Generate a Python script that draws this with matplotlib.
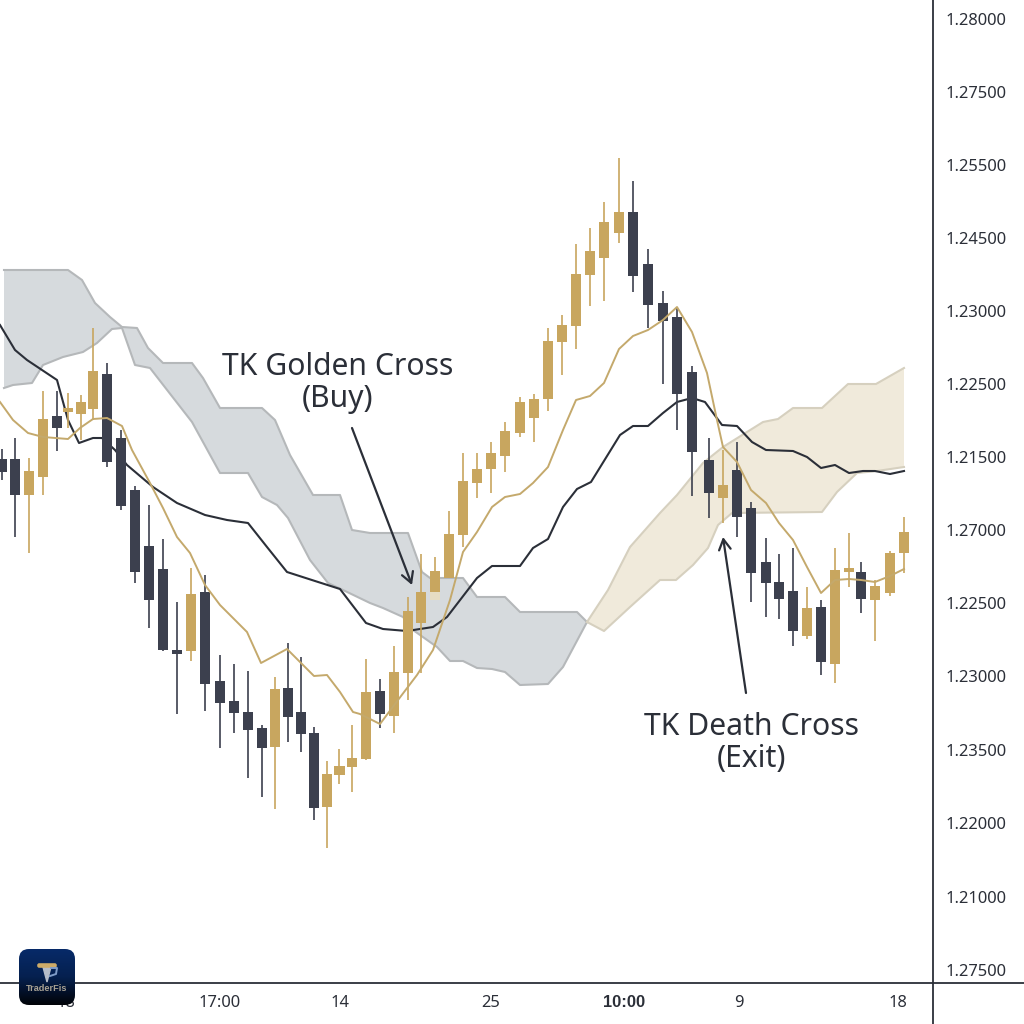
import numpy as np
import matplotlib
matplotlib.use("Agg")
import matplotlib.pyplot as plt
from matplotlib.colors import LinearSegmentedColormap
from matplotlib.patches import FancyBboxPatch
from matplotlib.lines import Line2D

plt.rcParams['font.family'] = ['Noto Sans', 'DejaVu Sans']

GOLD = '#c8a65f'
DARK = '#3c404e'
INK = '#2b2f38'

# candles (chart levels grow downwards)
bar_time = [2, 15, 29, 43, 57, 68, 81, 93, 107, 121, 135, 149, 163, 177, 191, 205, 219.7, 233.7, 247.7, 261.7,
            275, 288, 300.7, 313.7, 326.7, 339.3, 352, 365.7, 380, 394, 407.7, 421, 435, 449, 463, 477, 491, 505,
            519.7, 533.7, 548, 562, 576, 590, 604, 618.7, 633, 648, 662.7, 676.7, 692, 709, 723, 737, 751, 765.7,
            779, 793, 807, 821, 835, 848.7, 861, 875, 889.7, 903.7]
bar_up = [0, 0, 1, 1, 0, 1, 1, 1, 0, 0, 0, 0, 0, 0, 1, 0, 0, 0, 0, 0,
          1, 0, 0, 0, 1, 1, 1, 1, 0, 1, 1, 1, 1, 1, 1, 1, 1, 1,
          1, 1, 1, 1, 1, 1, 1, 1, 0, 0, 0, 0, 0, 0, 1, 0, 0, 0,
          0, 0, 1, 0, 1, 1, 0, 1, 1, 1]
body_top = [459, 459, 471, 419, 416, 408, 402, 371, 374, 438, 490, 546, 569, 650, 594, 592, 681, 701, 712, 728,
            689, 688, 712, 733, 774, 766, 758, 692, 691, 672, 611, 592, 571, 534, 481, 469, 453, 431,
            402, 399, 341, 325, 274, 251, 222, 212, 212, 264, 303, 317, 372, 460, 485, 470, 508, 562,
            582, 591, 608, 607, 570, 568, 572, 586, 553, 532]
body_bot = [472, 495, 495, 477, 428, 412, 414, 409, 462, 506, 572, 600, 650, 654, 651, 684, 703, 713, 730, 748,
            747, 717, 734, 808, 807, 775, 767, 759, 714, 716, 673, 623, 592, 578, 535, 483, 469, 456,
            433, 418, 399, 342, 326, 275, 258, 233, 276, 305, 321, 394, 452, 493, 498, 517, 573, 583,
            599, 631, 636, 662, 664, 572, 599, 600, 593, 553]
wick_top = [449, 438, 458, 391, 391, 393, 395, 328, 363, 430, 486, 505, 539, 602, 568, 575, 655, 664, 671, 725,
            677, 643, 657, 727, 761, 749, 725, 659, 679, 646, 597, 554, 557, 511, 453, 453, 442, 422,
            397, 394, 328, 315, 244, 228, 202, 158, 181, 249, 291, 307, 366, 438, 450, 442, 502, 538,
            554, 548, 587, 600, 548, 533, 562, 580, 551, 517]
wick_bot = [480, 537, 553, 495, 451, 428, 440, 420, 467, 510, 583, 628, 651, 714, 661, 711, 748, 733, 778, 797,
            809, 742, 752, 820, 848, 784, 792, 760, 728, 733, 700, 673, 600, 578, 547, 498, 493, 472,
            437, 442, 411, 375, 349, 306, 301, 243, 292, 328, 384, 430, 496, 518, 523, 537, 602, 617,
            619, 646, 639, 675, 683, 587, 613, 641, 596, 573]

# tenkan-sen
tenkan_t = [0, 13, 28, 43, 68, 80, 93, 107, 122, 132, 150, 163, 177, 190, 205, 220, 233, 247, 261, 287, 314, 327,
            340, 353, 360, 380, 398, 417, 433, 450, 463, 477, 492, 505, 520, 533, 548, 563, 576, 590, 604, 619,
            633, 648, 663, 677, 692, 707, 717, 723, 737, 751, 766, 779, 793, 807, 821, 835, 849, 861, 875, 890, 904]
tenkan_v = [402, 420, 433, 437, 439, 428, 419, 418, 426, 450, 483, 508, 537, 553, 585, 605, 618, 632, 663, 649,
            676, 675, 692, 712, 714, 724, 700, 675, 650, 600, 552, 532, 507, 497, 494, 483, 467, 430, 400, 396,
            383, 349, 336, 330, 320, 307, 332, 373, 420, 447, 462, 490, 503, 523, 540, 567, 593, 580, 579, 580,
            582, 576, 569]

# kijun-sen
kijun_t = [0, 15, 27, 42, 57, 68, 79, 93, 102, 115, 127, 153, 177, 205, 227, 248, 267, 287, 315, 340, 366, 383,
           407, 433, 447, 477, 492, 520, 533, 548, 563, 577, 591, 620, 633, 648, 663, 677, 692, 705, 722, 737,
           752, 766, 793, 807, 821, 835, 849, 863, 875, 890, 904]
kijun_v = [325, 350, 360, 370, 380, 420, 443, 438, 438, 450, 465, 487, 503, 515, 520, 523, 547, 572, 581, 589, 623,
           629, 631, 627, 617, 578, 566, 566, 548, 539, 507, 489, 482, 435, 426, 426, 413, 402, 398, 402, 425,
           426, 442, 450, 451, 457, 468, 465, 473, 471, 471, 474, 471]

# grey cloud, edges of both spans
grey_top_t = [4, 68, 82, 95, 110, 122, 137, 148, 163, 192, 203, 220, 262, 275, 290, 313, 340, 352, 370, 408, 422,
              430, 463, 477, 505, 520, 577, 587]
grey_top_v = [270, 270, 280, 303, 317, 327, 328, 348, 363, 363, 378, 408, 408, 420, 455, 495, 495, 530, 533, 533,
              572, 578, 578, 597, 597, 612, 612, 622]
grey_bot_t = [4, 13, 32, 43, 63, 83, 97, 112, 122, 135, 150, 192, 220, 248, 262, 277, 288, 310, 328, 343, 370,
              383, 403, 413, 437, 450, 463, 477, 492, 505, 520, 548, 563, 587]
grey_bot_v = [388, 385, 383, 365, 357, 352, 343, 329, 328, 365, 368, 422, 473, 473, 497, 505, 518, 560, 583, 590,
              603, 608, 617, 630, 647, 661, 661, 668, 669, 672, 685, 684, 667, 622]

# beige cloud
sand_top_t = [587, 608, 630, 660, 677, 703, 723, 763, 778, 793, 822, 848, 876, 904]
sand_top_v = [622, 590, 547, 513, 495, 463, 447, 422, 419, 408, 408, 384, 384, 368]
sand_bot_t = [587, 604, 630, 660, 676, 693, 708, 718, 732, 822, 837, 857, 877, 904]
sand_bot_v = [622, 631, 607, 580, 580, 565, 548, 525, 513, 512, 492, 473, 471, 467]

price_ticks = [19, 92, 165, 238, 311, 384, 457, 530, 603, 676, 750, 823, 897, 970]
price_labels = ['1.28000', '1.27500', '1.25500', '1.24500', '1.23000', '1.22500', '1.21500',
                '1.27000', '1.22500', '1.23000', '1.23500', '1.22000', '1.21000', '1.27500']
time_ticks = [66, 220, 340, 491, 624, 739, 898]
time_labels = ['18', '17:00', '14', '25', '10:00', '9', '18']

fig = plt.figure(figsize=(10.24, 10.24), dpi=100)
ax = fig.add_axes([0, 1 - 983 / 1024, 933 / 1024, 983 / 1024])
ax.set_xlim(0, 933)
ax.set_ylim(983, 0)


def fill_between_edges(top_t, top_v, bot_t, bot_v, fc, ec):
    # closed polygon: along the top edge, back along the bottom edge
    xs = np.r_[top_t, bot_t[::-1]]
    ys = np.r_[top_v, bot_v[::-1]]
    ax.fill(xs, ys, facecolor=fc, edgecolor='none', zorder=1)
    ax.plot(top_t, top_v, color=ec, lw=1.5, zorder=1.5)
    ax.plot(bot_t, bot_v, color=ec, lw=1.5, zorder=1.5)


fill_between_edges(grey_top_t, grey_top_v, grey_bot_t, grey_bot_v, '#d6dadd', '#b5b8ba')
fill_between_edges(sand_top_t, sand_top_v, sand_bot_t, sand_bot_v, '#f0eadb', '#d6d0bf')

ax.plot(kijun_t, kijun_v, color=INK, lw=1.5, zorder=2, solid_joinstyle='round')

colors = [GOLD if u else DARK for u in bar_up]
ax.vlines(bar_time, wick_top, wick_bot, colors=colors, lw=1.2, zorder=3)
ax.bar(bar_time, np.array(body_bot) - np.array(body_top), bottom=body_top, width=10.4, color=colors, zorder=3.2)
# pale patch under the candle at the golden cross
ax.bar(bar_time[32], 8, bottom=body_bot[32], width=10.4, color='#e6dcc2', zorder=3.1)

ax.plot(tenkan_t, tenkan_v, color='#c4a96c', lw=1.4, zorder=4, solid_joinstyle='round')

for s in ['top', 'left']:
    ax.spines[s].set_visible(False)
for s in ['right', 'bottom']:
    ax.spines[s].set_color(INK)
    ax.spines[s].set_linewidth(1.3)

ax.yaxis.tick_right()
ax.set_yticks(price_ticks)
ax.set_yticklabels(price_labels)
ax.set_xticks(time_ticks)
ax.set_xticklabels(time_labels)
ax.tick_params(axis='y', length=0, pad=9.2, labelsize=11.9, labelcolor=INK)
ax.tick_params(axis='x', length=0, pad=8.5, labelsize=11.9, labelcolor=INK)
# Noto Sans has no bold face installed here
ax.get_xticklabels()[4].set_fontfamily('Liberation Sans')
ax.get_xticklabels()[4].set_fontweight('bold')

# axis lines carry on past the crossing point
fig.add_artist(Line2D([933 / 1024, 1], [1 - 983 / 1024] * 2, color=INK, lw=1.3))
fig.add_artist(Line2D([933 / 1024] * 2, [0, 1 - 983 / 1024], color=INK, lw=1.3))

arrow = dict(arrowstyle='->,head_length=0.75,head_width=0.42', color=INK, lw=1.6, shrinkA=0, shrinkB=0)
ax.annotate('', xy=(412, 585), xytext=(352, 428), arrowprops=arrow, zorder=5)
ax.annotate('', xy=(723, 537), xytext=(746, 693), arrowprops=arrow, zorder=5)
ax.text(338, 383, 'TK Golden Cross\n(Buy)', ha='center', va='center', fontsize=21.7, color=INK,
        linespacing=1.05, zorder=6)
ax.text(751, 743, 'TK Death Cross\n(Exit)', ha='center', va='center', fontsize=21.7, color=INK,
        linespacing=1.05, zorder=6)

# badge in the lower left corner
badge = fig.add_axes([19 / 1024, 1 - 1005 / 1024, 56 / 1024, 56 / 1024], zorder=10)
badge.set_xlim(0, 56)
badge.set_ylim(56, 0)
badge.axis('off')
bg = np.linspace(0, 1, 64)[:, None]
navy = LinearSegmentedColormap.from_list('navy', ['#072a68', '#05204f', '#010308'])
im = badge.imshow(bg, cmap=navy, extent=(0, 56, 56, 0), aspect='auto')
clip = FancyBboxPatch((0, 0), 56, 56, boxstyle='round,pad=0,rounding_size=10', transform=badge.transData,
                      facecolor='none', edgecolor='none')
badge.add_patch(clip)
im.set_clip_path(clip)
badge.fill([24, 32, 28], [18, 18, 33], color='#b4bcc8')
badge.plot([32, 38, 37, 31], [19, 19, 25, 27], color='#7f9cc8', lw=1.4)
badge.add_patch(FancyBboxPatch((19, 15), 18, 3, boxstyle='round,pad=0.8,rounding_size=2', fc='#cdab68', ec='none'))
badge.text(28, 39.5, 'TraderFis', ha='center', va='center', fontsize=6.6, fontweight='bold',
           family='Liberation Sans', color='#a8a294')

fig.savefig('out.png', dpi=100, facecolor='white')
